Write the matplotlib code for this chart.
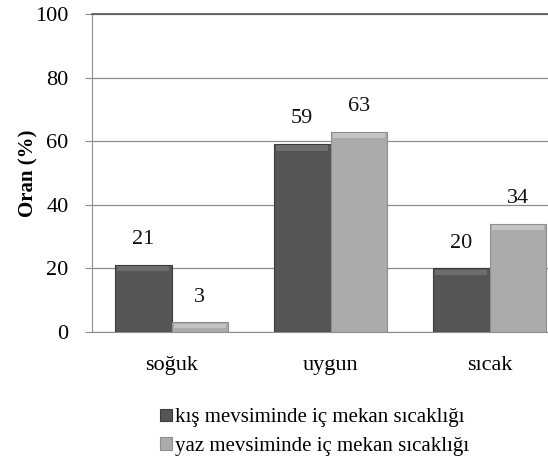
import matplotlib.pyplot as plt
import numpy as np

categories = ["soğuk", "uygun", "sıcak"]
kis = [21, 59, 20]
yaz = [3, 63, 34]
series_names = ["kış mevsiminde iç mekan sıcaklığı", "yaz mevsiminde iç mekan sıcaklığı"]

plt.rcParams['font.family'] = ['Liberation Serif', 'DejaVu Serif']

fig = plt.figure(figsize=(5.48, 4.75), dpi=100)
# the original picture is cut on the right, so the axes run past the edge
ax = fig.add_axes([92 / 548, 1 - 332 / 475, 477 / 548, 318 / 475])

x = np.arange(len(categories))
w = 0.355
b1 = ax.bar(x - w / 2, kis, w, color="#555555", edgecolor="#3c3c3c", linewidth=0.8,
            label=series_names[0], zorder=3)
b2 = ax.bar(x + w / 2, yaz, w, color="#ababab", edgecolor="#8e8e8e", linewidth=0.8,
            label=series_names[1], zorder=3)

# soft bevel along the top of every bar
for bars, col in ((b1, "#6e6e6e"), (b2, "#c4c4c4")):
    for r in bars:
        h = min(1.6, r.get_height() * 0.45)
        ax.bar(r.get_x() + r.get_width() / 2, h, r.get_width() * 0.92,
               bottom=r.get_height() - h - 0.35, color=col, linewidth=0, zorder=4)

for bars, vals in ((b1, kis), (b2, yaz)):
    for r, v in zip(bars, vals):
        ax.text(r.get_x() + r.get_width() / 2, v + 5.0, str(v), ha="center", va="bottom",
                fontsize=16, color="#111111")

ax.set_xlim(-0.5, 2.5)
ax.set_ylim(0, 100)
ax.set_yticks(range(0, 101, 20))
ax.yaxis.grid(True, color="#8c8c8c", linewidth=0.9, zorder=0)
ax.set_xticks(x)
ax.set_xticklabels(categories)
ax.tick_params(axis="y", labelsize=16, length=5, color="#8c8c8c", pad=12)
ax.tick_params(axis="x", labelsize=16, length=0, pad=17)
ax.spines["right"].set_visible(False)
ax.spines["top"].set_color("#555555")
ax.spines["top"].set_linewidth(1.2)
ax.spines["left"].set_color("#8c8c8c")
ax.spines["bottom"].set_color("#8c8c8c")
ax.set_ylabel("Oran (%)", fontsize=15, fontweight="bold", labelpad=-2.5)

fig.legend(handles=[b1, b2], loc="upper left", bbox_to_anchor=(150 / 548, 1 - 398 / 475),
           frameon=False, fontsize=15, handlelength=0.55, handleheight=0.55,
           handletextpad=0.15, labelspacing=0.45, borderpad=0)

fig.savefig("out.png", dpi=100)
